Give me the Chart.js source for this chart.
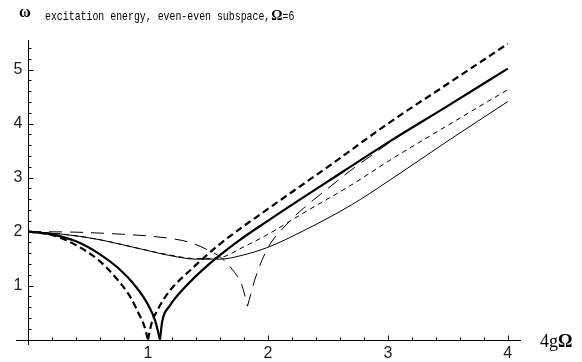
<!DOCTYPE html>
<html>
<head>
<meta charset="utf-8">
<script src="https://cdn.jsdelivr.net/npm/chart.js@4.4.1/dist/chart.umd.min.js"></script>
<style>
  html, body { margin: 0; padding: 0; background: #fff; }
  #wrap { width: 582px; height: 362px; }
</style>
</head>
<body>
<div id="wrap"><canvas id="excitationChart" width="582" height="362"></canvas></div>
<script>
// x axis: 4gΩ, y axis: ω (even-even subspace, Ω=6)
const xTicks = [1, 2, 3, 4];
const yTicks = [1, 2, 3, 4, 5];
const minorStep = 0.2;

// thick solid, two branches meeting in the cusp at 4gΩ≈1.1
const thickSolidDownX = [0, 0.2, 0.4, 0.6, 0.75, 0.9, 1.0, 1.06, 1.1];
const thickSolidDownY = [2, 1.95, 1.82, 1.58, 1.33, 0.98, 0.65, 0.35, 0];
const thickSolidUpX = [1.1, 1.12, 1.18, 1.3, 1.5, 1.75, 2.0, 2.5, 3.0, 3.5, 4.0];
const thickSolidUpY = [0, 0.35, 0.62, 0.95, 1.38, 1.82, 2.2, 2.93, 3.65, 4.33, 5.02];

// thick dashed, cusp at 4gΩ≈1.0
const thickDashDownX = [0, 0.2, 0.4, 0.6, 0.75, 0.85, 0.93, 0.97, 1.0];
const thickDashDownY = [2, 1.94, 1.75, 1.45, 1.1, 0.8, 0.45, 0.25, 0];
const thickDashUpX = [1.0, 1.03, 1.08, 1.18, 1.35, 1.6, 2.0, 2.5, 3.0, 3.5, 4.0];
const thickDashUpY = [0, 0.3, 0.55, 0.9, 1.28, 1.77, 2.42, 3.2, 4.0, 4.74, 5.48];

// thin solid
const thinSolidX = [0, 0.3, 0.6, 0.9, 1.2, 1.4, 1.6, 1.8, 2.0, 2.3, 2.7, 3.0, 3.5, 4.0];
const thinSolidY = [2, 1.95, 1.85, 1.7, 1.55, 1.49, 1.49, 1.57, 1.71, 2.02, 2.5, 2.93, 3.68, 4.41];

// thin short dashes
const thinDashX = [0, 0.3, 0.6, 0.9, 1.2, 1.4, 1.6, 1.8, 2.0, 2.3, 2.7, 3.0, 3.5, 4.0];
const thinDashY = [2, 1.95, 1.85, 1.7, 1.56, 1.5, 1.52, 1.72, 1.95, 2.35, 2.87, 3.3, 3.97, 4.63];

// thin long dashes, sharp dip at 4gΩ≈1.83
const longDashLeftX = [0, 0.4, 0.8, 1.0, 1.2, 1.35, 1.5, 1.62, 1.72, 1.78, 1.83];
const longDashLeftY = [2, 1.99, 1.95, 1.92, 1.87, 1.8, 1.66, 1.5, 1.25, 1.03, 0.62];
const longDashRightX = [1.83, 1.9, 2.0, 2.15, 2.3, 2.5, 2.7, 2.9, 3.1];
const longDashRightY = [0.62, 1.17, 1.7, 2.12, 2.44, 2.8, 3.15, 3.47, 3.79];

const pts = (xs, ys) => xs.map((v, i) => ({ x: v, y: ys[i] }));

function curve(xs, ys, width, dash) {
    return {
        data: pts(xs, ys),
        borderColor: '#000',
        borderWidth: width,
        borderDash: dash,
        showLine: true,
        fill: false,
        pointRadius: 0,
        cubicInterpolationMode: 'monotone',
        clip: false
    };
}

// condensed monospace text, the title font is narrow but tall
function monoText(ctx, str, x, y) {
    ctx.save();
    ctx.translate(x, y);
    ctx.scale(0.76, 1);
    ctx.font = '13px "Liberation Mono", monospace';
    ctx.fillText(str, 0, 0);
    const w = ctx.measureText(str).width * 0.76;
    ctx.restore();
    return w;
}

// axes drawn the Mathematica way: crossing at the origin, ticks pointing inward
const crossingAxes = {
    id: 'crossingAxes',
    beforeDatasetsDraw(chart) {
        const { ctx, scales: { x, y } } = chart;
        const x0 = Math.round(x.getPixelForValue(0)) + 0.5;
        const y0 = Math.round(y.getPixelForValue(0)) + 0.5;
        ctx.save();
        ctx.strokeStyle = '#000';
        ctx.lineWidth = 1;
        ctx.beginPath();
        ctx.moveTo(x.left, y0); ctx.lineTo(x.right, y0);
        ctx.moveTo(x0, y.bottom); ctx.lineTo(x0, y.top);
        for (let k = 1; k * minorStep <= x.max; k++) {
            const v = +(k * minorStep).toFixed(2);
            const len = Number.isInteger(v) ? 5 : 3;
            const px = Math.round(x.getPixelForValue(v)) + 0.5;
            ctx.moveTo(px, y0); ctx.lineTo(px, y0 - len);
        }
        for (let k = 1; k * minorStep <= y.max; k++) {
            const v = +(k * minorStep).toFixed(2);
            const len = Number.isInteger(v) ? 5 : 3;
            const py = Math.round(y.getPixelForValue(v)) + 0.5;
            ctx.moveTo(x0, py); ctx.lineTo(x0 + len, py);
        }
        ctx.stroke();

        ctx.fillStyle = '#222';
        ctx.font = '16px "Liberation Sans", Arial, sans-serif';
        ctx.textAlign = 'center';
        ctx.textBaseline = 'top';
        xTicks.forEach(v => ctx.fillText(String(v), x.getPixelForValue(v), y0 + 5));
        ctx.textAlign = 'right';
        ctx.textBaseline = 'middle';
        yTicks.forEach(v => ctx.fillText(String(v), x0 - 6, y.getPixelForValue(v)));

        // axis label on the right end of the x axis
        ctx.fillStyle = '#000';
        ctx.textAlign = 'left';
        ctx.textBaseline = 'alphabetic';
        ctx.font = '18px "Liberation Serif", serif';
        ctx.fillText('4g', x.right + 19, y0 + 6);
        const w4g = ctx.measureText('4g').width;
        ctx.font = 'bold 18px "Liberation Serif", serif';
        ctx.fillText('\u03A9', x.right + 19 + w4g, y0 + 6);

        // title line with the ω axis name
        ctx.font = 'bold 16px "Liberation Serif", serif';
        ctx.fillText('\u03C9', 19, 17);
        let cx = 45;
        cx += monoText(ctx, 'excitation energy, even-even subspace,', cx, 20) + 1;
        ctx.font = 'bold 14px "Liberation Serif", serif';
        ctx.fillText('\u03A9', cx, 20);
        cx += ctx.measureText('\u03A9').width;
        monoText(ctx, '=6', cx, 20);
        ctx.restore();
    }
};

const chart = new Chart(document.getElementById('excitationChart'), {
    type: 'scatter',
    data: {
        datasets: [
            curve(thickSolidDownX, thickSolidDownY, 2.2, []),
            curve(thickSolidUpX, thickSolidUpY, 2.2, []),
            curve(thickDashDownX, thickDashDownY, 2.2, [7, 4]),
            curve(thickDashUpX, thickDashUpY, 2.2, [7, 4]),
            curve(thinSolidX, thinSolidY, 1, []),
            curve(thinDashX, thinDashY, 1, [5, 4]),
            curve(longDashLeftX, longDashLeftY, 1, [13, 8]),
            curve(longDashRightX, longDashRightY, 1, [13, 8])
        ]
    },
    options: {
        responsive: false,
        animation: false,
        layout: { padding: { left: 16, right: 61, top: 40, bottom: 17 } },
        plugins: { legend: { display: false }, tooltip: { enabled: false } },
        scales: {
            x: { type: 'linear', min: -0.1, max: 4.11, display: false },
            y: { type: 'linear', min: -0.1, max: 5.55, display: false }
        }
    },
    plugins: [crossingAxes]
});
</script>
</body>
</html>
